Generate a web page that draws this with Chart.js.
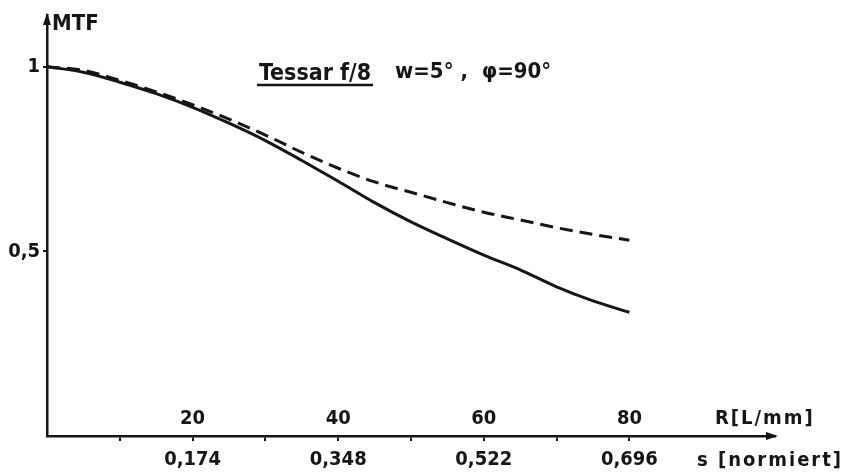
<!DOCTYPE html>
<html>
<head>
<meta charset="utf-8">
<script src="https://cdn.jsdelivr.net/npm/chart.js@4"></script>
<style>
  html, body { margin: 0; padding: 0; background: #fff; }
  #wrap { width: 848px; height: 475px; }
</style>
</head>
<body>
<div id="wrap"><canvas id="mtfChart" width="848" height="475"></canvas></div>
<script>
const FONT = '"DejaVu Sans Condensed", "Liberation Sans Narrow", "DejaVu Sans", sans-serif';
const INK = '#161616';

// spatial frequency R [L/mm]
const rValues = [0, 5, 10, 15, 20, 25, 30, 35, 40, 45, 50, 55, 60, 65, 70, 75, 80];
// MTF, solid curve
const mtfSolid = [1.0, 0.985, 0.958, 0.927, 0.89, 0.847, 0.80, 0.746, 0.69, 0.632, 0.58, 0.534, 0.49, 0.45, 0.404, 0.366, 0.335];
// MTF, dashed curve
const mtfDashed = [1.0, 0.99, 0.963, 0.932, 0.897, 0.858, 0.815, 0.768, 0.725, 0.688, 0.66, 0.632, 0.606, 0.585, 0.564, 0.546, 0.53];

const rTicks = [20, 40, 60, 80];
const rTickLabels = ['20', '40', '60', '80'];
const sTickLabels = ['0,174', '0,348', '0,522', '0,696'];
const minorTicks = [10, 20, 30, 40, 50, 60, 70, 80];
const yTicks = [0.5, 1];
const yTickLabels = ['0,5', '1'];

const toPoints = (xs, ys) => xs.map((x, i) => ({ x: x, y: ys[i] }));

// arrows, labels above the axis, axis names and the caption
const annotate = {
  id: 'annotate',
  afterDraw(chart) {
    const ctx = chart.ctx;
    const x = chart.scales.x;
    const a = chart.chartArea;
    ctx.save();
    ctx.fillStyle = INK;
    ctx.strokeStyle = INK;

    // arrow heads
    ctx.beginPath();
    ctx.moveTo(a.right + 3, a.bottom);
    ctx.lineTo(a.right - 9, a.bottom - 4);
    ctx.lineTo(a.right - 9, a.bottom + 4);
    ctx.closePath();
    ctx.fill();
    ctx.beginPath();
    ctx.moveTo(a.left, a.top - 2);
    ctx.lineTo(a.left - 4, a.top + 10);
    ctx.lineTo(a.left + 4, a.top + 10);
    ctx.closePath();
    ctx.fill();

    // R labels sit above the axis
    ctx.font = 'bold 20px ' + FONT;
    ctx.textAlign = 'center';
    ctx.textBaseline = 'middle';
    rTicks.forEach((v, i) => {
      ctx.fillText(rTickLabels[i], x.getPixelForValue(v), a.bottom - 17);
    });
    ctx.textAlign = 'left';
    ctx.letterSpacing = '2px';
    ctx.fillText('R[L/mm]', 715, a.bottom - 17);
    ctx.fillText('s [normiert]', 697, a.bottom + 25);
    ctx.letterSpacing = '0px';

    ctx.font = 'bold 22px ' + FONT;
    ctx.fillText('MTF', 52, 24);

    // caption
    ctx.font = 'bold 23px ' + FONT;
    ctx.textBaseline = 'alphabetic';
    const cap = 'Tessar f/8';
    ctx.fillText(cap, 259, 80);
    const w = ctx.measureText(cap).width;
    ctx.lineWidth = 2.5;
    ctx.beginPath();
    ctx.moveTo(257, 85);
    ctx.lineTo(259 + w + 2, 85);
    ctx.stroke();
    ctx.font = 'bold 22px ' + FONT;
    ctx.fillText('w=5° ,  φ=90°', 395, 78);
    ctx.restore();
  }
};

new Chart(document.getElementById('mtfChart'), {
  type: 'line',
  data: {
    datasets: [
      {
        label: 'solid',
        data: toPoints(rValues, mtfSolid),
        borderColor: INK,
        borderWidth: 3,
        pointRadius: 0,
        cubicInterpolationMode: 'monotone'
      },
      {
        label: 'dashed',
        data: toPoints(rValues, mtfDashed),
        borderColor: INK,
        borderWidth: 3,
        borderDash: [13, 7],
        pointRadius: 0,
        cubicInterpolationMode: 'monotone'
      }
    ]
  },
  options: {
    responsive: false,
    animation: false,
    layout: { padding: { top: 11, right: 73, left: 0, bottom: 0 } },
    plugins: { legend: { display: false }, tooltip: { enabled: false } },
    scales: {
      x: {
        type: 'linear',
        min: 0,
        max: 100,
        afterFit: s => { s.height = 39; },
        afterBuildTicks: s => { s.ticks = minorTicks.map(v => ({ value: v })); },
        grid: { drawOnChartArea: false, tickLength: 5, color: INK, lineWidth: 2 },
        border: { color: INK, width: 2.5 },
        ticks: {
          autoSkip: false,
          maxRotation: 0,
          padding: 7,
          color: INK,
          font: { family: FONT, size: 20, weight: 'bold' },
          callback: v => {
            const i = rTicks.indexOf(v);
            return i >= 0 ? sTickLabels[i] : '';
          }
        }
      },
      y: {
        min: 0,
        max: 1.14,
        afterFit: s => { s.width = 47; },
        afterBuildTicks: s => { s.ticks = yTicks.map(v => ({ value: v })); },
        grid: { drawOnChartArea: false, tickLength: 4, color: INK, lineWidth: 2 },
        border: { color: INK, width: 2.5 },
        ticks: {
          padding: 3,
          color: INK,
          font: { family: FONT, size: 20, weight: 'bold' },
          callback: v => {
            const i = yTicks.indexOf(v);
            return i >= 0 ? yTickLabels[i] : '';
          }
        }
      }
    }
  },
  plugins: [annotate]
});
</script>
</body>
</html>
